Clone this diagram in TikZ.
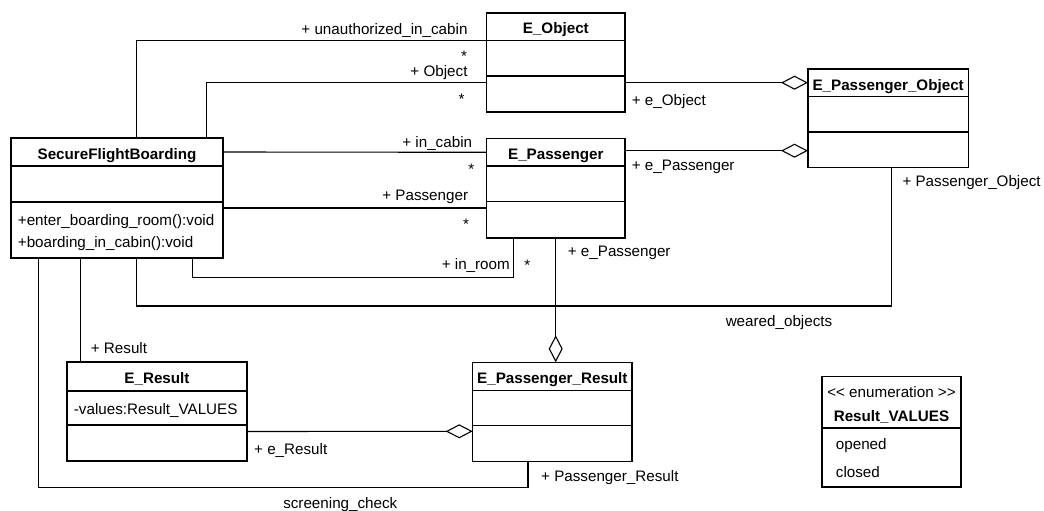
\documentclass[tikz,border=0pt]{standalone}
\usepackage{fontspec}
\setmainfont{Liberation Sans}[Ligatures=TeXOff]
\usetikzlibrary{arrows.meta}
\newcommand\umlfont{\fontsize{15.2}{18}\selectfont}
\begin{document}
\begin{tikzpicture}
[
    x=1pt, y=-1pt,
    every node/.style={font=\umlfont},
    umlclass/.style={draw, line width=1.1pt, anchor=north west, inner sep=0pt, outer sep=0pt},
    classname/.style={anchor=base, inner sep=0pt, font=\umlfont\bfseries},
    member/.style={anchor=base west, inner sep=0pt},
    role/.style={inner sep=0pt},
    divider/.style={line width=1.1pt},
    assoc/.style={draw, line width=1.1pt},
    aggr/.style={{Diamond[open, length=27pt, width=14pt]}-}
]
    \useasboundingbox (0,0) rectangle (1044,511);

    % classes
    \node [umlclass, minimum width=212pt, minimum height=120pt] (sfb) at (11,138) {};
    \node [classname] (sfb-name) at ([yshift=-21pt]sfb.north) {SecureFlightBoarding};
    \node [member] (sfb-op1) at ([xshift=6.7pt, yshift=-87.3pt]sfb.north west) {+enter\_boarding\_room():void};
    \node [member] (sfb-op2) at ([xshift=6.7pt, yshift=-109pt]sfb.north west) {+boarding\_in\_cabin():void};

    \node [umlclass, minimum width=138.3pt, minimum height=99pt] (eobj) at (486.7,13) {};
    \node [classname] (eobj-name) at ([yshift=-21pt]eobj.north) {E\_Object};

    \node [umlclass, minimum width=138.3pt, minimum height=99.3pt] (epas) at (486.7,138.7) {};
    \node [classname] (epas-name) at ([yshift=-21pt]epas.north) {E\_Passenger};

    \node [umlclass, minimum width=160.3pt, minimum height=98.7pt] (epo) at (808,69) {};
    \node [classname] (epo-name) at ([yshift=-21pt]epo.north) {E\_Passenger\_Object};

    \node [umlclass, minimum width=180pt, minimum height=99pt] (eres) at (67,362) {};
    \node [classname] (eres-name) at ([yshift=-21pt]eres.north) {E\_Result};
    \node [member] (eres-att) at ([xshift=6.7pt, yshift=-52pt]eres.north west) {-values:Result\_VALUES};

    \node [umlclass, minimum width=159.3pt, minimum height=99pt] (epr) at (472.7,362.3) {};
    \node [classname] (epr-name) at ([yshift=-21pt]epr.north) {E\_Passenger\_Result};

    \node [umlclass, minimum width=139pt, minimum height=110.7pt] (rv) at (822,376.3) {};
    \node [anchor=base, inner sep=0pt] (rv-stereo) at ([yshift=-21pt]rv.north) {<\kern0pt< enumeration >\kern0pt>};
    \node [classname] (rv-name) at ([yshift=-44.7pt]rv.north) {Result\_VALUES};
    \node [member] (rv-opened) at ([xshift=13.7pt, yshift=-72.7pt]rv.north west) {opened};
    \node [member] (rv-closed) at ([xshift=13.7pt, yshift=-100.7pt]rv.north west) {closed};

    \foreach \c/\d in {sfb/28, sfb/64, eobj/27.7, eobj/63, epas/27.3, epas/63,
                       epo/27.7, epo/63, eres/29, eres/63, epr/28.4, epr/63, rv/51.7}
        \draw [divider] ([yshift=-\d pt]\c.north west) -- ([yshift=-\d pt]\c.north east);

    % associations
    \draw [assoc] ([xshift=125.5pt]sfb.north west) |- ([yshift=-27.5pt]eobj.north west);
    \draw [assoc] ([xshift=195.7pt]sfb.north west) |- ([yshift=-69.3pt]eobj.north west);
    \draw [assoc] ([yshift=-14pt]sfb.north east) -- ([yshift=-13.6pt]epas.north west);
    \draw [assoc] ([yshift=-70pt]sfb.north east) -- ([yshift=-69.3pt]epas.north west);
    \draw [assoc] ([xshift=181.3pt]sfb.south west) -- ++(0,19.3) -| ([xshift=26.6pt]epas.south west);
    \draw [assoc] ([xshift=125.5pt]sfb.south west) -- ++(0,48) -| ([xshift=83.7pt]epo.south west);
    \draw [assoc] ([xshift=69.3pt]sfb.south west) -- ([xshift=13.3pt]eres.north west);
    \draw [assoc] ([xshift=27.7pt]sfb.south west) -- ++(0,229.5) -| ([xshift=55.3pt]epr.south west);

    % aggregations
    \draw [assoc, aggr] ([yshift=-13.7pt]epo.north west) -- ([yshift=-69.7pt]eobj.north east);
    \draw [assoc, aggr] ([yshift=-81.7pt]epo.north west) -- ([yshift=-12pt]epas.north east);
    \draw [assoc, aggr] ([xshift=83pt]epr.north west) -- ([xshift=69pt]epas.south west);
    \draw [assoc, aggr] ([yshift=-69pt]epr.north west) -- ([yshift=-69.5pt]eres.north east);

    % role names and multiplicities
    \node [role, anchor=base east] (r-unauth) at (467.7,34.3) {+ unauthorized\_in\_cabin};
    \node [role, anchor=base] (m-unauth) at (464,61.3) {*};
    \node [role, anchor=base east] (r-object) at (467.7,76.7) {+ Object};
    \node [role, anchor=base] (m-object) at (461.7,104.6) {*};
    \node [role, anchor=base east] (r-incabin) at (472.3,147) {+ in\_cabin};
    \node [role, anchor=base] (m-incabin) at (471.3,174.3) {*};
    \node [role, anchor=base east] (r-passenger) at (468.3,200.5) {+ Passenger};
    \node [role, anchor=base] (m-passenger) at (466,229.6) {*};
    \node [role, anchor=base east] (r-inroom) at (510,269.3) {+ in\_room};
    \node [role, anchor=base] (m-inroom) at (527.3,270.9) {*};
    \node [role, anchor=base west] (r-epas1) at (567.7,256) {+ e\_Passenger};
    \node [role, anchor=base west] (r-eobj) at (631.7,105.3) {+ e\_Object};
    \node [role, anchor=base west] (r-epas2) at (631.7,170.7) {+ e\_Passenger};
    \node [role, anchor=base west] (r-po) at (902.3,186.7) {+ Passenger\_Object};
    \node [role, anchor=base] (a-weared) at (779,326.3) {weared\_objects};
    \node [role, anchor=base west] (r-result) at (90.7,353.7) {+ Result};
    \node [role, anchor=base west] (r-eres) at (254,454) {+ e\_Result};
    \node [role, anchor=base west] (r-pr) at (541,481.7) {+ Passenger\_Result};
    \node [role, anchor=base] (a-screening) at (340.3,508.5) {screening\_check};
\end{tikzpicture}
\end{document}
